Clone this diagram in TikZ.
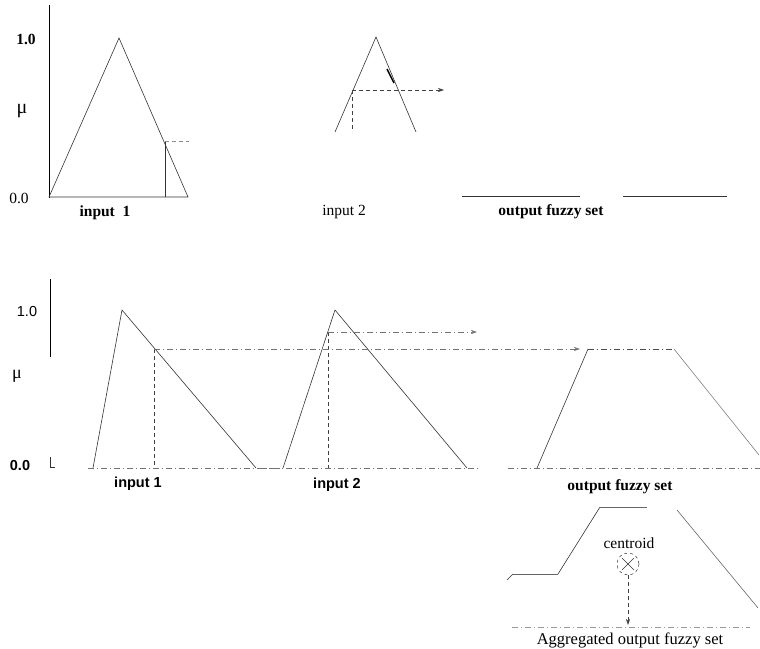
\documentclass[tikz,border=0pt]{standalone}
\usepackage{fontspec}
\setmainfont{Liberation Serif}
\setsansfont{Liberation Sans}
\usetikzlibrary{arrows.meta}
\begin{document}
\begin{tikzpicture}[x=1pt,y=-1pt,
  curve/.style={draw=black!80,line width=0.6pt},
  axis/.style={draw=black,line width=0.8pt},
  guide/.style={draw=black!75,line width=0.6pt,dash pattern=on 4pt off 3pt},
  faint/.style={draw=black!55,line width=0.5pt,dash pattern=on 6pt off 3pt on 1pt off 3pt},
  arr/.style={-{Stealth[length=6pt,width=4pt]}},
  lab/.style={font=\fontsize{15.5}{18}\selectfont\bfseries,inner sep=0pt},
  labr/.style={font=\fontsize{15.5}{18}\selectfont,inner sep=0pt},
  slab/.style={font=\sffamily\fontsize{14.5}{17}\selectfont\bfseries,inner sep=0pt},
  slabr/.style={font=\sffamily\fontsize{14.5}{17}\selectfont,inner sep=0pt}]
\useasboundingbox (0,0) rectangle (760,648);
% ---------- top panel ----------
\coordinate (ta0) at (49,5);
\coordinate (ta1) at (49,198);
\draw[axis] (ta0) -- (ta1);
\node[lab] (t10) at (26,39) {1.0};
\node[labr,font=\fontsize{20}{22}\selectfont] (tmu) at (22,111) {μ};
\node[labr] (t00) at (19,198) {0.0};
% triangle 1
\coordinate (p1a) at (49,197);
\coordinate (p1b) at (119,38);
\coordinate (p1c) at (188,197);
\draw[curve] (p1a) -- (p1b) -- (p1c) -- cycle;
\coordinate (p1x) at (165,141);
\coordinate (p1xb) at (165,197);
\coordinate (p1xe) at (189,141);
\draw[curve] (p1xb) -- (p1x);
\draw[guide,draw=black!45] (p1x) -- (p1xe);
\node[lab] (in1) at (105,213) {input\ \ 1};
% triangle 2
\coordinate (p2a) at (335,132);
\coordinate (p2b) at (376,37);
\coordinate (p2c) at (416,132);
\draw[curve] (p2a) -- (p2b) -- (p2c);
\coordinate (p2m1) at (387,69);
\coordinate (p2m2) at (394,83);
\draw[black,line width=1.5pt] (p2m1) -- (p2m2);
\coordinate (p2x) at (352,90);
\coordinate (p2xb) at (352,132);
\coordinate (p2xe) at (444,90);
\draw[guide] (p2x) -- (p2xb);
\draw[guide,arr] (p2x) -- (p2xe);
\node[labr] (in2) at (344,212) {input 2};
% output lines
\coordinate (o1a) at (462,196);
\coordinate (o1b) at (580,196);
\coordinate (o2a) at (623,196);
\coordinate (o2b) at (727,196);
\draw[curve,line width=0.8pt] (o1a) -- (o1b);
\draw[curve,line width=0.8pt] (o2a) -- (o2b);
\node[lab] (outt) at (551,212) {output fuzzy set};
% ---------- bottom panel ----------
\coordinate (ba0) at (50,279);
\coordinate (ba1) at (50,357);
\draw[axis,line width=1pt] (ba0) -- (ba1);
\coordinate (bl0) at (50,457);
\coordinate (bl1) at (50,467);
\coordinate (bl2) at (55,467);
\draw[curve] (bl0) -- (bl1) -- (bl2);
\node[slabr] (b10) at (27,312) {1.0};
\node[labr,font=\fontsize{18}{20}\selectfont] (bmu) at (17,376) {μ};
\node[slab] (b00) at (20,466) {0.0};
% baselines
\coordinate (bb0) at (88,468);
\coordinate (bb1) at (280,468);
\coordinate (bb2) at (260,468);
\coordinate (bb3) at (480,468);
\coordinate (bb4) at (508,468);
\coordinate (bb5) at (760,468);
\draw[faint] (bb0) -- (bb1);
\draw[faint] (bb2) -- (bb3);
\draw[faint] (bb4) -- (bb5);
% triangle 3
\coordinate (q1a) at (93,468);
\coordinate (q1b) at (122,310);
\coordinate (q1c) at (256,468);
\draw[curve] (q1a) -- (q1b) -- (q1c);
\coordinate (q1x) at (154,349);
\coordinate (q1xb) at (154,468);
\draw[guide] (q1x) -- (q1xb);
% triangle 4
\coordinate (q2a) at (283,468);
\coordinate (q2b) at (335,310);
\coordinate (q2c) at (467,468);
\draw[curve] (q2a) -- (q2b) -- (q2c);
\coordinate (q2x) at (328,332);
\coordinate (q2xb) at (328,468);
\coordinate (q2xe) at (477,332);
\draw[guide] (q2x) -- (q2xb);
\draw[faint,arr] (q2x) -- (q2xe);
% trapezoid
\coordinate (tz1) at (537,468);
\coordinate (tz2) at (588,349);
\coordinate (tz3) at (674,349);
\coordinate (tz4) at (759,455);
\draw[curve] (tz1) -- (tz2);
\draw[faint,draw=black!70] (tz2) -- (tz3);
\draw[curve,draw=black!50] (tz3) -- (tz4);
\coordinate (q1xe) at (580,349);
\draw[faint,arr] (q1x) -- (q1xe);
\node[slab] (bin1) at (138,484) {input 1};
\node[slab] (bin2) at (337,485) {input 2};
\node[lab] (bout) at (620,487) {output fuzzy set};
% aggregated
\coordinate (ag1) at (507,580);
\coordinate (ag2) at (513,574);
\coordinate (ag3) at (558,574);
\coordinate (ag4) at (600,507);
\coordinate (ag5) at (647,507);
\coordinate (ag6) at (677,510);
\coordinate (ag7) at (758,608);
\draw[curve] (ag1) -- (ag2);
\draw[curve,draw=black!60] (ag2) -- (ag3);
\draw[curve] (ag3) -- (ag4);
\draw[curve,draw=black!60] (ag4) -- (ag5);
\draw[curve,draw=black!60] (ag6) -- (ag7);
\node[labr] (cent) at (629,543) {centroid};
\node[draw=black!80,dashed,circle,minimum size=22pt,inner sep=0pt,line width=0.5pt] (cc) at (628,564) {};
\coordinate (cx1) at (622,558);
\coordinate (cx2) at (634,570);
\coordinate (cx3) at (622,570);
\coordinate (cx4) at (634,558);
\draw[curve] (cx1) -- (cx2);
\draw[curve] (cx3) -- (cx4);
\coordinate (cend) at (628,625);
\draw[guide,arr] (cc.south) -- (cend);
\coordinate (ab0) at (512,627);
\coordinate (ab1) at (750,627);
\draw[faint,draw=black!40] (ab0) -- (ab1);
\node[labr,font=\fontsize{16.5}{19}\selectfont] (aggl) at (630,640) {Aggregated output fuzzy set};
\end{tikzpicture}
\end{document}
